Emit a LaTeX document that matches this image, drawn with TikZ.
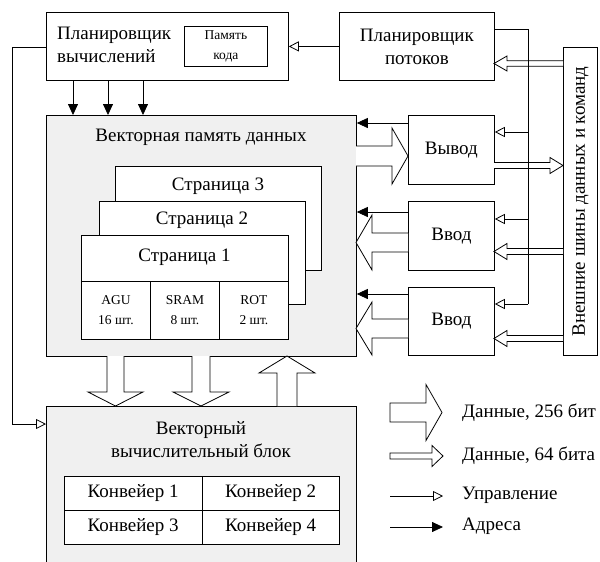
\documentclass[tikz,border=0pt]{standalone}
\usepackage{fontspec}
\setmainfont{Liberation Serif}
\usetikzlibrary{arrows.meta,calc}
\tikzset{
 box/.style={draw, line width=0.8pt, fill=white, anchor=north west, inner sep=0pt},
 gbox/.style={box, fill=black!6},
 lbl/.style={font=\fontsize{19}{23}\selectfont, align=center, inner sep=0pt},
 slbl/.style={font=\fontsize{13.5}{20}\selectfont, align=center, inner sep=0pt},
 ctrl/.style={draw, line width=0.8pt, -{Triangle[open,length=10pt,width=10pt]}},
 addr/.style={draw, line width=0.8pt, -{Triangle[length=11pt,width=10pt]}},
 wire/.style={draw, line width=0.8pt},
 blk/.style={draw, fill=white, line width=0.8pt, line join=miter},
}
% horizontal block arrow: x0, x1(tip), y, shaft half width, head half width, head length, close
\newcommand\blkH[7]{%
 \pgfmathsetmacro\bx{#2-sign(#2-#1)*#6}%
 \draw[blk] (#1,#3-#4) -- (\bx,#3-#4) -- (\bx,#3-#5) -- (#2,#3) -- (\bx,#3+#5) -- (\bx,#3+#4) -- (#1,#3+#4) #7;}
% vertical block arrow: y0, y1(tip), x, shaft half width, head half width, head length
\newcommand\blkV[7]{%
 \pgfmathsetmacro\by{#2-sign(#2-#1)*#6}%
 \draw[blk] (#3-#4,#1) -- (#3-#4,\by) -- (#3-#5,\by) -- (#3,#2) -- (#3+#5,\by) -- (#3+#4,\by) -- (#3+#4,#1) #7;}
\begin{document}
\begin{tikzpicture}[x=1pt,y=-1pt]
\useasboundingbox (0,0) rectangle (600,562);
\clip (0,0) rectangle (600,562);

% schedulers
\node[box, minimum width=242pt, minimum height=68pt] (sched) at (46,12) {};
\node[lbl, align=left, anchor=west] at (57,45) {Планировщик\\вычислений};
\node[box, slbl, minimum width=83pt, minimum height=40pt] (code) at (184,26) {Память\\кода};
\node[box, lbl, minimum width=155pt, minimum height=68pt] (thr) at (339,12) {Планировщик\\потоков};

% vector data memory
\node[gbox, minimum width=310pt, minimum height=241pt] (mem) at (46,115) {};
\node[lbl] at (201,137) {Векторная память данных};
\node[box, minimum width=206pt, minimum height=104pt] (p3) at (115,166) {};
\node[lbl] at (218,186) {Страница 3};
\node[box, minimum width=206pt, minimum height=103pt] (p2) at (99,201) {};
\node[lbl] at (202,220) {Страница 2};
\node[box, minimum width=207pt, minimum height=104pt] (p1) at (81,235) {};
\node[lbl] at (184.5,257) {Страница 1};
\node[box, slbl, minimum width=69pt, minimum height=58pt] (agu) at (81,281) {AGU\\16 шт.};
\node[box, slbl, minimum width=69pt, minimum height=58pt] (sram) at (150,281) {SRAM\\8 шт.};
\node[box, slbl, minimum width=69pt, minimum height=58pt] (rot) at (219,281) {ROT\\2 шт.};

% I/O
\node[box, lbl, minimum width=86pt, minimum height=69pt] (out) at (408,115) {Вывод};
\node[box, lbl, minimum width=86pt, minimum height=69pt] (in1) at (408,201) {Ввод};
\node[box, lbl, minimum width=86pt, minimum height=68pt] (in2) at (408,287) {Ввод};

% external bus
\node[box, minimum width=34pt, minimum height=308pt] (bus) at (563,47) {};
\node[lbl, rotate=90] at (bus.center) {Внешние шины данных и команд};

% vector compute block
\node[gbox, minimum width=310pt, minimum height=180pt] (comp) at (46,406) {};
\node[lbl] at (201,440) {Векторный\\вычислительный блок};
\node[box, lbl, minimum width=137.5pt, minimum height=34pt] (k1) at (64,476) {Конвейер 1};
\node[box, lbl, minimum width=137.5pt, minimum height=34pt] (k2) at (201.5,476) {Конвейер 2};
\node[box, lbl, minimum width=137.5pt, minimum height=34pt] (k3) at (64,510) {Конвейер 3};
\node[box, lbl, minimum width=137.5pt, minimum height=34pt] (k4) at (201.5,510) {Конвейер 4};

% 256-bit data
\blkH{356}{408}{156}{10}{28}{16}{}
\blkH{408}{356}{242.5}{9.5}{27.5}{16}{}
\blkH{408}{356}{328.5}{9.5}{26.5}{16}{}
\blkV{356}{406}{115.5}{8.5}{27.5}{14}{}
\blkV{356}{406}{201}{9}{28}{14}{}
\blkV{406}{356}{287}{10}{28}{17}{}

% 64-bit data
\blkH{563}{494}{63.5}{2.8}{7.5}{13}{}
\blkH{494}{563}{165.5}{3}{8}{13}{}
\blkH{563}{494}{251.5}{3}{8}{13}{}
\blkH{563}{494}{338.5}{3}{8}{13}{}

% control connectors
\draw[ctrl] (sched.west |- 0,47) -- (12,47) -- (12,424) -- (comp.west |- 0,424);
\draw[ctrl] (thr.west) -- (thr.west -| sched.east);
\draw[wire] (thr.east |- 0,29) -- (528,29) -- (528,304);
\draw[ctrl] (528,132) -- (out.east |- 0,132);
\draw[ctrl] (528,219) -- (in1.east |- 0,219);
\draw[ctrl] (528,304) -- (in2.east |- 0,304);

% address connectors
\draw[addr] (73,0 |- sched.south) -- (73,0 |- mem.north);
\draw[addr] (108,0 |- sched.south) -- (108,0 |- mem.north);
\draw[addr] (143,0 |- sched.south) -- (143,0 |- mem.north);
\draw[addr] (out.west |- 0,123) -- (mem.east |- 0,123);
\draw[addr] (in1.west |- 0,212) -- (mem.east |- 0,212);
\draw[addr] (in2.west |- 0,294) -- (mem.east |- 0,294);

% legend
\blkH{390}{442}{412.5}{9.5}{28}{16}{-- cycle}
\blkH{390}{443}{456}{3}{10.5}{11}{-- cycle}
\coordinate (lc0) at (390,496); \coordinate (lc1) at (443,496);
\coordinate (la0) at (390,527); \coordinate (la1) at (443,527);
\draw[ctrl] (lc0) -- (lc1);
\draw[addr] (la0) -- (la1);
\node[lbl, anchor=west] at (462,413) {Данные, 256 бит};
\node[lbl, anchor=west] at (462,456) {Данные, 64 бита};
\node[lbl, anchor=west] at (462,495) {Управление};
\node[lbl, anchor=west] at (462,526) {Адреса};
\end{tikzpicture}
\end{document}
